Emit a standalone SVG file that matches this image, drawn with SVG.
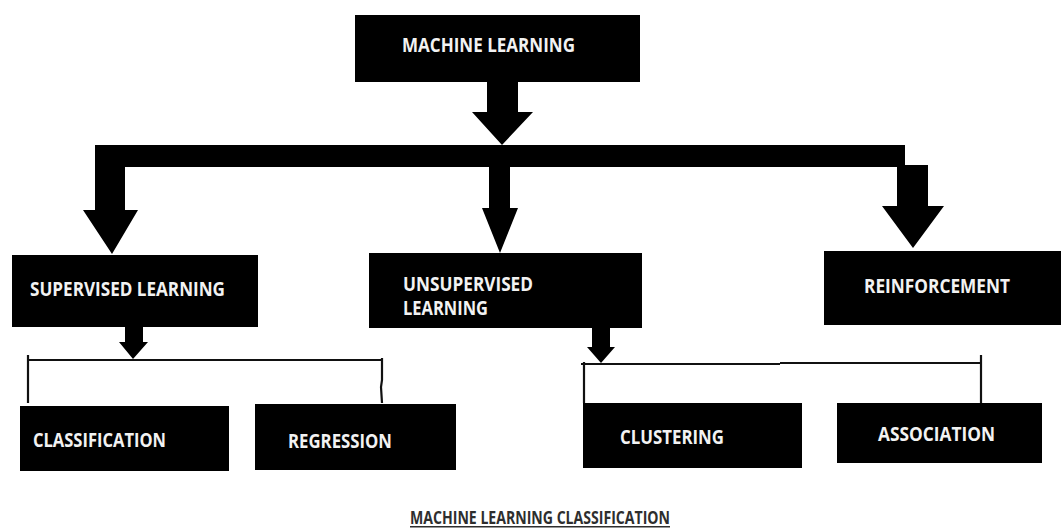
<svg xmlns="http://www.w3.org/2000/svg" width="1061" height="530" viewBox="0 0 1061 530">
<style>
.box{fill:#000}
.lbl{font-family:"Open Sans","Noto Sans","DejaVu Sans",sans-serif;font-weight:bold;font-size:19px;fill:#f2f2f2}
.arr{fill:#000}
.thin{stroke:#111;stroke-width:2.2;fill:none}
.cap{font-family:"Open Sans","Noto Sans","DejaVu Sans",sans-serif;font-weight:bold;font-size:17px;fill:#2e2e2e}
</style>
<rect width="1061" height="530" fill="#fff"/>
<g id="connectors">
  <polygon class="arr" points="487,82 518,82 518,112 533,112 502,145 472,112 487,112"/>
  <rect class="arr" x="95" y="145" width="810" height="22"/>
  <polygon class="arr" points="95,160 125,160 125,210 138,210 112,254 83,210 95,210"/>
  <polygon class="arr" points="489,160 510,160 510,208 518,208 500,253 482,208 489,208"/>
  <polygon class="arr" points="897,165 928,165 928,206 944,206 913,248 882,206 897,206"/>
  <polygon class="arr" points="125,326 143,326 143,342 148,342 133,359 119,342 125,342"/>
  <polyline class="thin" points="28,355 28,403"/>
  <line class="thin" x1="28" y1="360" x2="383" y2="360"/>
  <polyline class="thin" points="382,358 382,380 381,387 382,403"/>
  <polygon class="arr" points="592,327 610,327 610,347 615,347 601,363 587,347 592,347"/>
  <line class="thin" x1="581" y1="364" x2="780" y2="364"/>
  <line class="thin" x1="780" y1="363" x2="981" y2="363"/>
  <line class="thin" x1="584" y1="362" x2="584" y2="403"/>
  <line class="thin" x1="981" y1="355" x2="981" y2="403"/>
</g>
<g id="machine-learning">
  <rect class="box" x="355" y="15" width="285" height="67"/>
  <text class="lbl" x="402" y="52" textLength="173" lengthAdjust="spacingAndGlyphs">MACHINE LEARNING</text>
</g>
<g id="supervised">
  <rect class="box" x="12" y="255" width="246" height="72"/>
  <text class="lbl" x="30" y="296" textLength="195" lengthAdjust="spacingAndGlyphs">SUPERVISED LEARNING</text>
</g>
<g id="unsupervised">
  <rect class="box" x="369" y="253" width="273" height="75"/>
  <text class="lbl" x="403" y="291" textLength="130" lengthAdjust="spacingAndGlyphs">UNSUPERVISED</text>
  <text class="lbl" x="403" y="315" textLength="85" lengthAdjust="spacingAndGlyphs">LEARNING</text>
</g>
<g id="reinforcement">
  <rect class="box" x="824" y="251" width="237" height="74"/>
  <text class="lbl" x="864" y="293" textLength="146" lengthAdjust="spacingAndGlyphs">REINFORCEMENT</text>
</g>
<g id="classification">
  <rect class="box" x="20" y="406" width="209" height="65"/>
  <text class="lbl" x="33" y="447" textLength="133" lengthAdjust="spacingAndGlyphs">CLASSIFICATION</text>
</g>
<g id="regression">
  <rect class="box" x="255" y="404" width="201" height="66"/>
  <text class="lbl" x="288" y="448" textLength="104" lengthAdjust="spacingAndGlyphs">REGRESSION</text>
</g>
<g id="clustering">
  <rect class="box" x="583" y="403" width="219" height="65"/>
  <text class="lbl" x="620" y="444" textLength="104" lengthAdjust="spacingAndGlyphs">CLUSTERING</text>
</g>
<g id="association">
  <rect class="box" x="837" y="403" width="205" height="60"/>
  <text class="lbl" x="878" y="441" textLength="117" lengthAdjust="spacingAndGlyphs">ASSOCIATION</text>
</g>
<g id="caption">
  <text class="cap" x="410" y="524" textLength="260" lengthAdjust="spacingAndGlyphs">MACHINE LEARNING CLASSIFICATION</text>
  <rect x="410" y="526" width="260" height="1.5" fill="#2e2e2e"/>
</g>
</svg>
